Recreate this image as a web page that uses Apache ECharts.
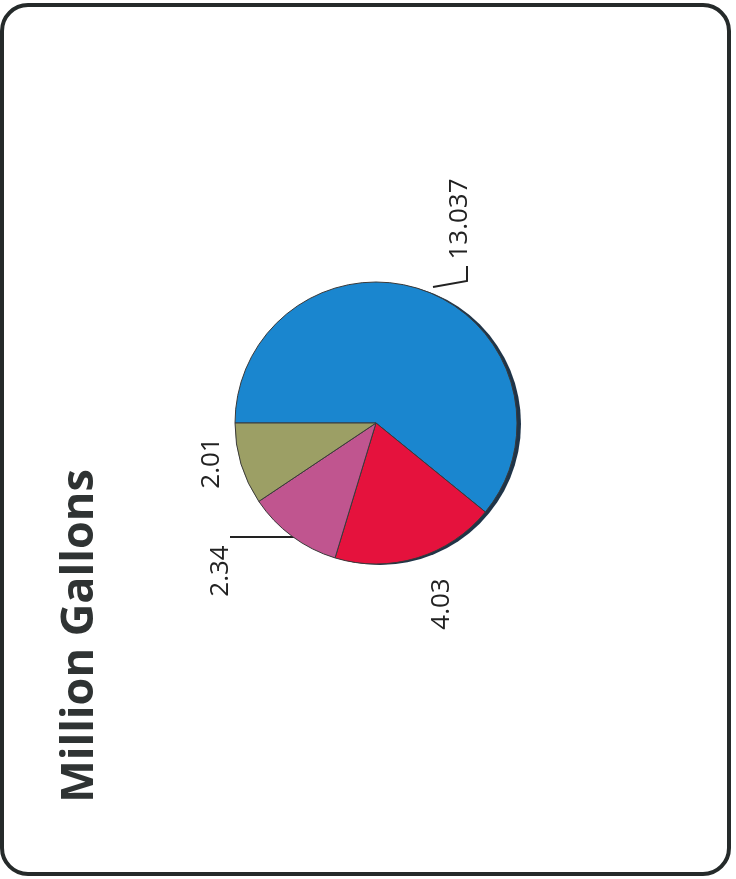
<!DOCTYPE html>
<html>
<head>
<meta charset="utf-8">
<script src="https://cdn.jsdelivr.net/npm/echarts@6/dist/echarts.min.js"></script>
<style>html,body{margin:0;padding:0;background:#fff;}#c{width:736px;height:879px;}</style>
</head>
<body>
<div id="c"></div>
<script>
var categories = ['A', 'B', 'C', 'D'];
var values = [13.037, 4.03, 2.34, 2.01];
var labelTexts = ['13.037', '4.03', '2.34', '2.01'];
var colors = ['#1a86cf', '#e5123d', '#c0558f', '#9c9f65'];
var titleText = 'Million Gallons';

var chart = echarts.init(document.getElementById('c'));
var labelPos = [[460, 219], [442, 604], [221, 571], [212, 463]];
var linePts = [
  [[433, 287], [467, 281], [467, 266]],
  null,
  [[298, 537], [230, 537]],
  null
];
chart.setOption({
  backgroundColor: '#ffffff',
  animation: false,
  graphic: [
    { type: 'rect', shape: { x: 2, y: 5, width: 727, height: 869, r: 26 }, style: { fill: 'none', stroke: '#252a2a', lineWidth: 4 }, z: 1 },
    { type: 'circle', shape: { cx: 380, cy: 424, r: 141 }, style: { fill: '#1f3448' }, z: 0 },
    { type: 'text', x: 80, y: 636, rotation: Math.PI / 2, style: { text: titleText, font: 'bold 45px "Open Sans"', fill: '#2f3333', align: 'center', verticalAlign: 'middle' }, z: 5 }
  ],
  series: [{
    type: 'pie',
    z: 3,
    center: [376, 423],
    radius: 141,
    startAngle: 180,
    clockwise: true,
    data: categories.map(function (c, i) {
      return { name: c, value: values[i], itemStyle: { color: colors[i] }, label: { formatter: labelTexts[i] } };
    }),
    itemStyle: { borderColor: '#3a3a3a', borderWidth: 1 },
    label: { show: true, position: 'outside', rotate: 90, fontFamily: 'Open Sans', fontSize: 26, color: '#222' },
    labelLine: { show: true, smooth: false, minTurnAngle: 0, maxSurfaceAngle: 180, lineStyle: { color: '#222', width: 2 } },
    labelLayout: function (p) {
      var i = p.dataIndex;
      var r = { x: labelPos[i][0], y: labelPos[i][1], rotate: 90, align: 'center', verticalAlign: 'middle' };
      if (linePts[i]) r.labelLinePoints = linePts[i];
      else r.labelLinePoints = [[0, 0], [0, 0], [0, 0]];
      return r;
    },
    emphasis: { disabled: true }
  }]
});
</script>
</body>
</html>
